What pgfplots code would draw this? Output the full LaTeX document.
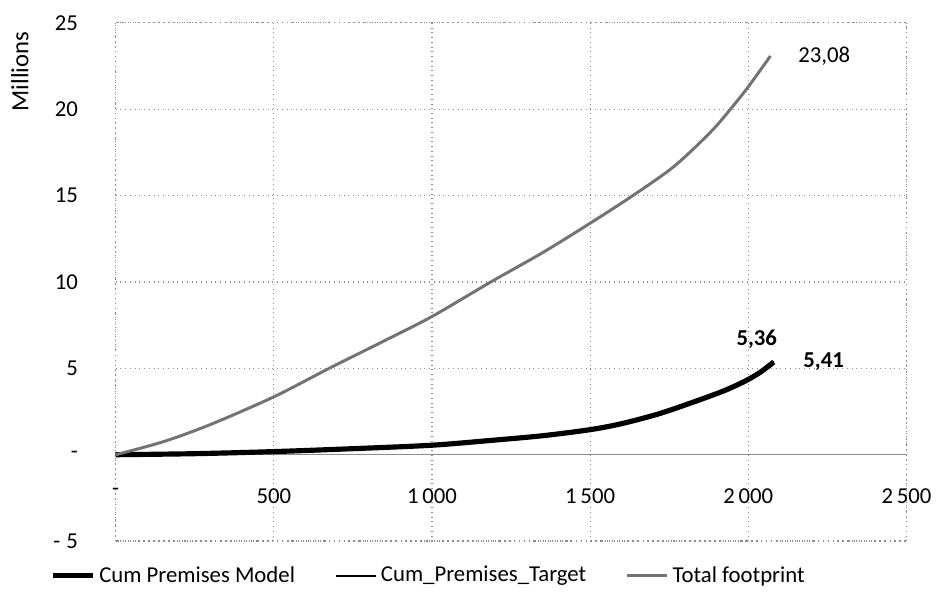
\documentclass[border=0pt]{standalone}
\usepackage{pgfplots}
\pgfplotsset{compat=1.18}
\usepackage{fontspec}
\setmainfont{Carlito}
\definecolor{footgray}{RGB}{115,115,115}
\definecolor{gridgray}{RGB}{140,140,140}
\begin{document}
\fontsize{11.5}{13.5}\selectfont
\begin{tikzpicture}
\begin{axis}[
  scale only axis,
  width=398.25bp, height=261bp,
  xmin=0, xmax=2500, ymin=-5, ymax=25,
  xtick={0,500,1000,1500,2000,2500},
  xticklabels={\raisebox{5bp}{-}\hspace{11bp}, 500, 1\,000, 1\,500, 2\,000, 2\,500},
  ytick={-5,0,5,10,15,20,25},
  yticklabels={-\hspace{3bp}5, -\hspace{6bp}, 5, 10, 15, 20, 25},
  /pgf/number format/assume math mode=true,
  major tick length=0pt,
  xticklabel style={anchor=center, yshift=22.5bp},
  yticklabel style={anchor=east, xshift=-15bp},
  grid=major,
  grid style={gridgray, dotted, line width=0.6bp},
  axis line style={gridgray, dotted, line width=0.6bp},
  extra y ticks={0},
  extra y tick labels={},
  extra y tick style={grid style={solid, gridgray, line width=0.6bp}},
  ylabel={\fontsize{12.5}{14}\selectfont Millions},
  ylabel style={at={(axis description cs:-0.121,0.906)}, anchor=center},
  legend style={at={(axis description cs:0.397,-0.067)}, anchor=center,
    legend columns=3, draw=none, fill=none,
    /tikz/every even column/.append style={column sep=18bp}},
  legend image code/.code={\draw[#1] (0bp,0bp) -- (20bp,0bp);},
  clip=false,
]
\addplot[black, line width=2.6bp, smooth] coordinates {
(0,0) (250,0.06) (500,0.18) (750,0.35) (1000,0.55) (1200,0.85) (1350,1.1)
(1500,1.45) (1600,1.8) (1714,2.35) (1819,3.0) (1923,3.7) (1994,4.3)
(2040,4.8) (2080,5.36)};
\addlegendentry{Cum Premises Model}
\addplot[black, line width=1.3bp, smooth] coordinates {
(0,0) (250,0.06) (500,0.18) (750,0.35) (1000,0.55) (1200,0.85) (1350,1.1)
(1500,1.45) (1600,1.8) (1714,2.35) (1819,3.0) (1923,3.7) (1994,4.3)
(2040,4.8) (2080,5.41)};
\addlegendentry{Cum\_Premises\_Target}
\addplot[footgray, line width=1.5bp, smooth] coordinates {
(0,0) (150,0.75) (300,1.75) (500,3.35) (675,5.0) (850,6.6) (1000,8.0)
(1186,10.0) (1350,11.7) (1500,13.4) (1635,15.0) (1766,16.7) (1882,18.7)
(1948,20.1) (2000,21.3) (2070,23.08)};
\addlegendentry{Total footprint}
\node[anchor=west, xshift=10bp] at (axis cs:2070,23.08) {23,08};
\node[font=\bfseries, xshift=-8.5bp, yshift=11bp] at (axis cs:2080,5.41) {5,36};
\node[font=\bfseries, anchor=west, xshift=11bp] at (axis cs:2080,5.41) {5,41};
\end{axis}
\useasboundingbox (current axis.south west) ++(-58.25bp,-31bp) rectangle ++(469.5bp,303.5bp);
\end{tikzpicture}
\end{document}
